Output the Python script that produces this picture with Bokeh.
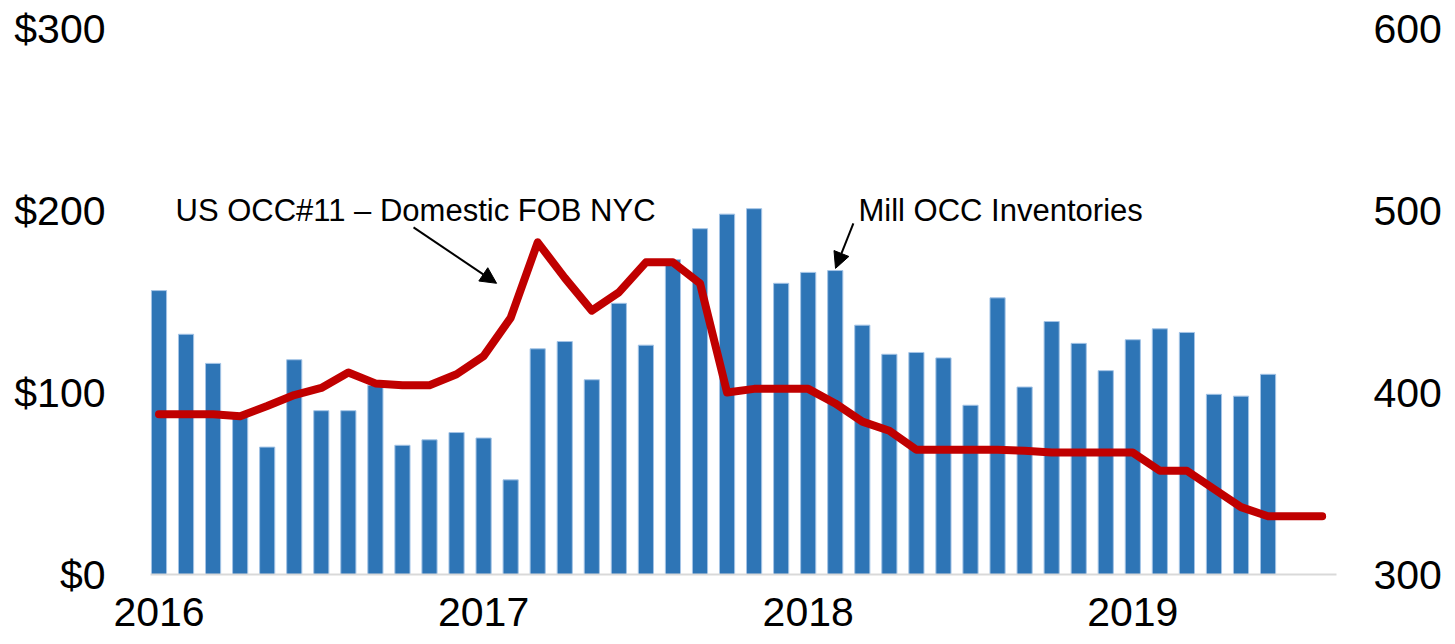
from bokeh.plotting import figure
from bokeh.models import (Range1d, LinearAxis, FixedTicker, Label, Arrow, NormalHead,
                          ColumnDataSource)
from bokeh.embed import file_html
from bokeh.resources import INLINE

# ---------------- data ----------------
months = [f"{y}-{m:02d}" for y in (2016, 2017, 2018, 2019) for m in range(1, 13)][:44]

# US OCC#11 - Domestic FOB NYC, US$/ton (left axis), Jan 2016 - Aug 2019
price = [88, 88, 88, 87, 92.6, 98.6, 102.5, 111, 105, 104, 104, 110,
         120, 141, 182.5, 163, 145, 155, 171.5, 171.5, 160, 100, 102, 102,
         102, 94, 84, 79, 68.5, 68.5, 68.5, 68.5, 68, 67, 67, 67,
         67, 57, 57, 47, 37, 32, 32, 32]

# Mill OCC inventories, 000 tons (right axis), Jan 2016 - Jun 2019
inventory = [456, 432, 416, 387, 370, 418, 390, 390, 404, 371, 374, 378,
             375, 352, 424, 428, 407, 449, 426, 473, 490, 498, 501, 460,
             466, 467, 437, 421, 422, 419, 393, 452, 403, 439, 427, 412,
             429, 435, 433, 399, 398, 410]

year_ticks = [0, 12, 24, 36]
year_labels = ["2016", "2017", "2018", "2019"]
left_ticks = [0, 100, 200, 300]
left_labels = ["$0", "$100", "$200", "$300"]
right_ticks = [300, 400, 500, 600]

line_idx = list(range(len(price)))
bar_idx = list(range(len(inventory)))

FONT = "Liberation Sans"
TICK_SIZE = "41px"

p = figure(frame_width=1186, frame_height=546,
           min_border_left=150, min_border_right=119,
           min_border_top=28, min_border_bottom=70,
           x_range=Range1d(-0.314, 43.53), y_range=Range1d(0, 300),
           output_backend="svg", toolbar_location=None,
           background_fill_color="white", border_fill_color="white")
p.outline_line_color = None
p.grid.visible = False

p.extra_y_ranges = {"inv": Range1d(300, 600)}

# bars
bar_src = ColumnDataSource(dict(x=bar_idx, top=inventory))
p.vbar(x="x", top="top", bottom=300, width=0.56, source=bar_src,
       y_range_name="inv", fill_color="#2E75B6", line_color="#A4C4E6",
       line_width=1)

# line
line_src = ColumnDataSource(dict(x=line_idx, y=price))
p.line(x="x", y="y", source=line_src, line_color="#C00000", line_width=8,
       line_join="round", line_cap="round")


def style_axis(ax, standoff):
    ax.major_tick_line_color = None
    ax.minor_tick_line_color = None
    ax.major_tick_out = 0
    ax.major_tick_in = 0
    ax.minor_tick_out = 0
    ax.minor_tick_in = 0
    ax.major_label_text_font = FONT
    ax.major_label_text_font_size = TICK_SIZE
    ax.major_label_text_color = "black"
    ax.major_label_standoff = standoff


# axes
xa = p.xaxis[0]
xa.ticker = FixedTicker(ticks=year_ticks)
xa.major_label_overrides = {t: l for t, l in zip(year_ticks, year_labels)}
xa.axis_line_color = "#D9D9D9"
xa.axis_line_width = 2
style_axis(xa, 23)

ya = p.yaxis[0]
ya.ticker = FixedTicker(ticks=left_ticks)
ya.major_label_overrides = {t: l for t, l in zip(left_ticks, left_labels)}
ya.axis_line_color = None
style_axis(ya, 45)

ra = LinearAxis(y_range_name="inv", ticker=FixedTicker(ticks=right_ticks))
ra.axis_line_color = None
style_axis(ra, 37)
p.add_layout(ra, "right")

# annotations
p.add_layout(Label(x=0.61, y=200, text="US OCC#11 \u2013 Domestic FOB NYC",
                   text_font=FONT, text_font_size="31px", text_color="black",
                   text_baseline="middle", text_align="left"))
p.add_layout(Label(x=25.86, y=200, text="Mill OCC Inventories",
                   text_font=FONT, text_font_size="31px", text_color="black",
                   text_baseline="middle", text_align="left"))

p.add_layout(Arrow(x_start=9.41, y_start=190.7, x_end=12.48, y_end=160,
                   line_color="black", line_width=2,
                   end=NormalHead(size=16, fill_color="black", line_color="black")))
p.add_layout(Arrow(x_start=25.67, y_start=192.9, x_end=25.01, y_end=168.2,
                   line_color="black", line_width=2,
                   end=NormalHead(size=16, fill_color="black", line_color="black")))

open("out.html", "w").write(file_html(p, INLINE))
